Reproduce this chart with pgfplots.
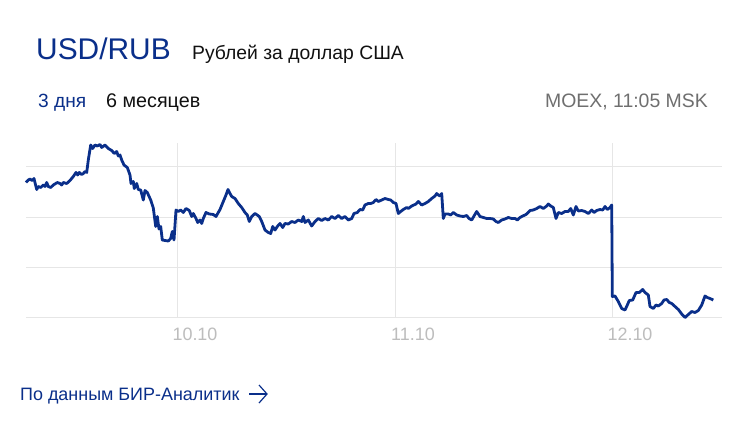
\documentclass[border=0pt]{standalone}
\usepackage{pgfplots}
\pgfplotsset{compat=1.18}
\usepackage{fontspec}
\setmainfont{Liberation Sans}
\definecolor{mblue}{HTML}{0A2F8A}
\definecolor{gridgray}{HTML}{E6E6E6}
\definecolor{tickgray}{HTML}{BDBDBD}
\definecolor{infogray}{HTML}{6F6F6F}
\definecolor{txt}{HTML}{111111}
\begin{document}
\begin{tikzpicture}[x=1bp,y=1bp]
\path[fill=white] (0,0) rectangle (744,424);
\node[anchor=base west, inner sep=0, font=\fontsize{30}{30}\selectfont, text=mblue] at (36,365) {USD/RUB};
\node[anchor=base west, inner sep=0, font=\fontsize{19.4}{19.4}\selectfont, text=txt] at (192,365) {Рублей за доллар США};
\node[anchor=base west, inner sep=0, font=\fontsize{19.2}{19.2}\selectfont, text=mblue] at (38,317) {3 дня};
\node[anchor=base west, inner sep=0, font=\fontsize{19.8}{19.8}\selectfont, text=txt] at (106,317) {6 месяцев};
\node[anchor=base east, inner sep=0, font=\fontsize{19.5}{19.5}\selectfont, text=infogray] at (708,317) {MOEX, 11:05 MSK};
\node[anchor=base west, inner sep=0, font=\fontsize{18}{18}\selectfont, text=mblue] at (20,24) {По данным БИР-Аналитик};
\draw[mblue, line width=1.2bp] (249,30)--(267,30);
\draw[mblue, line width=1.2bp, line join=miter] (259,39)--(267,30)--(259,21);
\begin{axis}[at={(26bp,107bp)}, anchor=south west,
  width=696bp, height=174bp, scale only axis,
  xmin=26, xmax=722, ymin=97, ymax=100.48,
  axis line style={draw=none}, tick style={draw=none},
  xmajorgrids, ymajorgrids,
  grid style={color=gridgray, line width=1bp},
  ytick={97,98,99,100}, yticklabels={},
  xtick={177,395,612}, xticklabels={10.10,11.10,12.10},
  xticklabel style={font=\fontsize{18}{18}\selectfont, text=tickgray, xshift=18bp, yshift=-7bp},
  clip=false]
\addplot[mblue, line width=2.8bp, line join=round] coordinates {
(26,99.69)(28.3,99.74)(30,99.76)(32,99.73)(34,99.77)(36.7,99.55)(38.3,99.61)(40.7,99.59)
(43.3,99.64)(45,99.61)(46.7,99.69)(48.3,99.61)(50.7,99.59)(53.3,99.64)(57.3,99.69)(60,99.67)
(61.7,99.64)(63.3,99.69)(66.7,99.67)(70,99.73)(73.3,99.81)(76,99.89)(77.7,99.84)(79.3,99.89)
(81.7,99.85)(83.3,99.87)(85,99.91)(86.7,99.89)(88.3,100.14)(90.7,100.44)(92.7,100.37)(95,100.44)
(97.3,100.42)(100,100.45)(101.7,100.39)(105,100.44)(108.3,100.37)(111.7,100.33)(114.3,100.27)
(116.7,100.31)(118.3,100.22)(120,100.24)(121.7,100.14)(124,100.04)(127.3,99.99)(130,99.84)
(131,99.67)(133.3,99.71)(134.3,99.57)(136.7,99.67)(138.3,99.55)(140.7,99.54)(143.3,99.34)
(145,99.53)(147.3,99.49)(150.7,99.34)(153.3,99.18)(155.7,98.81)(157.3,99.01)(159,98.76)
(160.7,98.81)(162.3,98.54)(165,98.53)(168.3,98.52)(170.7,98.57)(172.3,98.71)(174,98.54)
(176,99.14)(178.3,99.11)(180.7,99.14)(183.3,99.09)(186,99.17)(189.3,99.13)(191.7,99.01)
(193.3,99.07)(196,98.97)(197.7,98.89)(200,98.94)(201.7,98.87)(203.3,98.97)(206,99.09)
(209.3,99.06)(213.3,99.05)(216,99.01)(217.7,99.07)(220,99.15)(223.3,99.31)(226,99.44)
(228,99.55)(230,99.47)(231.7,99.41)(235,99.37)(238.3,99.27)(241.7,99.19)(245,99.09)
(247.3,99.04)(249.3,98.91)(251.7,99.01)(255,99.07)(259.3,99.01)(261.7,98.91)(265,98.74)
(268.3,98.69)(270.7,98.67)(272.7,98.81)(275,98.74)(277.3,98.81)(280,98.87)(282.7,98.79)
(285,98.87)(288.3,98.86)(291.7,98.91)(295,98.89)(298.3,98.94)(301.7,98.91)(303.3,99.01)
(305,98.89)(308.3,98.94)(311.7,98.82)(315,98.91)(318.3,98.97)(321.7,98.93)(325,98.97)
(328.3,98.94)(331.7,99.01)(335,98.97)(338.3,99.03)(341.7,98.97)(345,99.01)(348.3,98.94)
(351.7,98.97)(354,99.07)(357.3,99.09)(360,99.15)(362.7,99.14)(365,99.24)(368.3,99.27)
(370.7,99.27)(373.3,99.29)(376,99.35)(378.3,99.31)(381.7,99.34)(385,99.37)(388.3,99.35)
(390.7,99.34)(393.3,99.29)(396,99.27)(398.3,99.07)(400.7,99.11)(403.3,99.15)(406.7,99.19)
(408.3,99.17)(411.7,99.22)(416,99.26)(418.3,99.31)(421.7,99.24)(425,99.27)(428.3,99.31)
(431.7,99.37)(435,99.42)(436.7,99.47)(438.3,99.44)(440,99.42)(441.7,99.47)(443.3,98.97)
(445,99.06)(448.3,99.06)(450.7,99.04)(453.3,99.09)(456.7,99.04)(460,99.02)(463.3,99.01)
(466.7,99.03)(469,98.97)(471.7,98.94)(474,99.02)(476.7,99.11)(480,99.01)(483.3,98.99)
(486.7,98.97)(490,98.97)(493.3,98.96)(496,98.91)(498.3,98.89)(501.7,98.94)(505,98.96)
(508.3,98.99)(511.7,98.97)(515,98.97)(517.3,98.94)(520,98.99)(522.7,99.02)(525,99.04)
(526.7,99.06)(530,99.13)(533.3,99.14)(536.7,99.17)(540,99.21)(543.3,99.17)(546.7,99.22)
(548.3,99.26)(550.7,99.22)(553.3,99.19)(556,98.97)(558.3,99.09)(561.7,99.07)(565,99.11)
(568.3,99.11)(570.7,99.17)(573.3,99.04)(576,99.21)(578.3,99.12)(581.7,99.13)(585,99.11)
(588.3,99.07)(591.7,99.14)(594,99.09)(596.7,99.13)(600,99.15)(602.7,99.14)(605,99.21)
(607.3,99.15)(610,99.19)(611.7,99.24)(612.3,97.41)(615,97.42)(618.3,97.31)(621.7,97.17)
(625,97.14)(627.3,97.24)(629.3,97.33)(632.7,97.34)(636,97.49)(639.3,97.49)(642.7,97.55)
(645,97.49)(648.3,97.44)(650,97.21)(653.3,97.17)(656,97.24)(658.3,97.22)(661.7,97.27)
(664,97.34)(666.7,97.35)(669.3,97.29)(671.7,97.27)(675,97.21)(678.3,97.15)(681.7,97.06)
(685,96.99)(688.3,97.05)(691.7,97.11)(695,97.09)(698.3,97.13)(701.7,97.24)(705,97.42)
(707.3,97.39)(710,97.37)(713.3,97.34)
};
\end{axis}
\end{tikzpicture}
\end{document}
